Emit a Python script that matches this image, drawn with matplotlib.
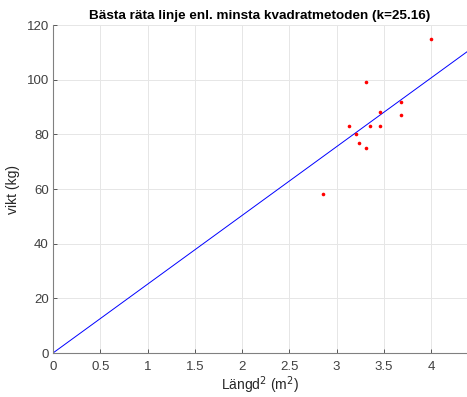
import matplotlib
matplotlib.use("Agg")
import matplotlib.pyplot as plt
import numpy as np

plt.rcParams['font.family'] = ['Liberation Sans', 'DejaVu Sans']

langd2 = [2.86, 3.13, 3.21, 3.24, 3.31, 3.31, 3.35, 3.46, 3.46, 3.68, 3.68, 4.00]
vikt = [58, 83, 80, 77, 75, 99, 83, 83, 88, 87, 92, 115]
k = 25.16
xmax = 4.38

fig = plt.figure(figsize=(4.67, 3.97), dpi=100)
ax = fig.add_axes([53/467, 1 - 353/397, 1 - 53/467, (353 - 25)/397])

xl = np.array([0, xmax])
ax.plot(xl, k * xl, color='#0000ff', lw=0.7)
ax.plot(langd2, vikt, 'o', color='#ff0000', ms=2.6, mec='none')

ax.set_xlim(0, xmax)
ax.set_ylim(0, 120)
ax.set_xticks([0, 0.5, 1, 1.5, 2, 2.5, 3, 3.5, 4])
ax.set_xticklabels(['0', '0.5', '1', '1.5', '2', '2.5', '3', '3.5', '4'])
ax.set_yticks([0, 20, 40, 60, 80, 100, 120])
ax.grid(True, color='#e6e6e6', lw=0.7)
ax.set_axisbelow(True)
for s in ['top', 'right']:
    ax.spines[s].set_visible(False)
for s in ['left', 'bottom']:
    ax.spines[s].set_color('#808080')
    ax.spines[s].set_linewidth(0.8)
ax.tick_params(direction='in', length=3, width=0.6, color='#404040',
               labelcolor='#404040', labelsize=9.5)
ax.tick_params(axis='x', pad=6)
ax.tick_params(axis='y', pad=3)

ax.set_xlabel('Längd$^2$ (m$^2$)', fontsize=10, color='#262626', labelpad=1)
ax.set_ylabel('vikt (kg)', fontsize=10, color='#262626', labelpad=5)
ax.set_title('Bästa räta linje enl. minsta kvadratmetoden (k=25.16)',
             fontsize=9.7, fontweight='bold', color='#000000', pad=4)

fig.savefig('out.png', dpi=100)
